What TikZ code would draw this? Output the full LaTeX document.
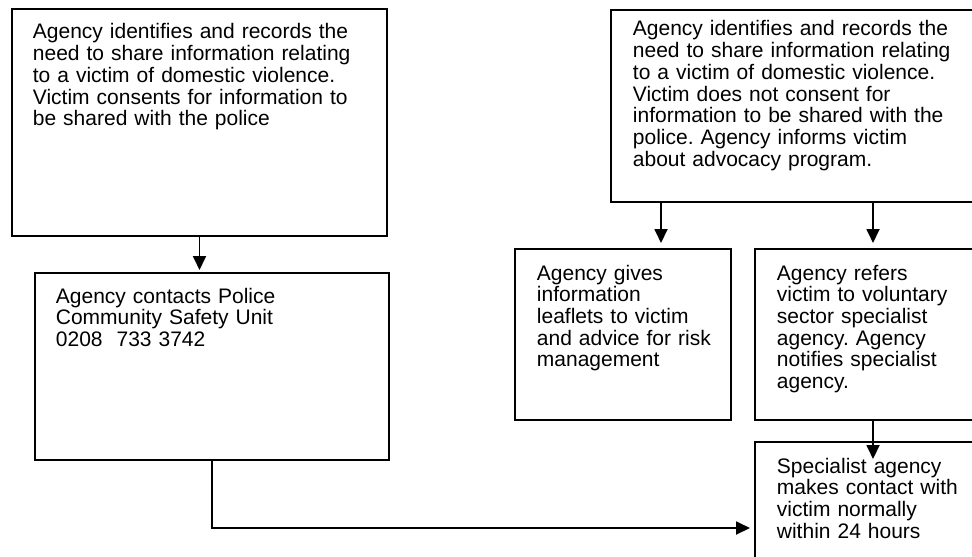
\documentclass[tikz,border=0pt]{standalone}
\usepackage{fontspec}
\setmainfont{Liberation Sans}
\usetikzlibrary{arrows.meta}
\frenchspacing
\tikzset{
  box/.style={draw,line width=0.9pt,anchor=north west,inner sep=0pt,outer sep=0pt},
  txt/.style={anchor=base west,inner sep=0pt,align=left,text width=190pt,
    font=\fontsize{10.5pt}{10.85pt}\selectfont},
}
\begin{document}
\begin{tikzpicture}[x=0.5pt,y=-0.5pt,>={Triangle[length=7pt,width=6.5pt]},line width=0.9pt]
%%
  \path[use as bounding box,clip] (0,0) rectangle (972,556);

  \node (node_0) at (12,9) [box,minimum width=187.5pt,minimum height=113.5pt] {};
  \node (node_1) at (35,273) [box,minimum width=177pt,minimum height=93.5pt] {};
  \node (node_2) at (611,10) [box,minimum width=190pt,minimum height=96pt] {};
  \node (node_3) at (515,249) [box,minimum width=108pt,minimum height=85.5pt] {};
  \node (node_4) at (755,249) [box,minimum width=118pt,minimum height=85.5pt] {};
  \node (node_5) at (755,442) [box,minimum width=118pt,minimum height=75pt] {};

  \node (text_0) at (32,39) [txt] {Agency identifies and records the\\need to share information relating\\to a victim of domestic violence.\\Victim consents for information to\\be shared with the police};
  \node (text_1) at (55,303) [txt] {Agency contacts Police\\Community Safety Unit\\0208\ \ 733 3742};
  \node (text_2) at (632,36) [txt] {Agency identifies and records the\\need to share information relating\\to a victim of domestic violence.\\Victim does not consent for\\information to be shared with the\\police. Agency informs victim\\about advocacy program.};
  \node (text_3) at (536,280) [txt] {Agency gives\\information\\leaflets to victim\\and advice for risk\\management};
  \node (text_4) at (776,280) [txt] {Agency refers\\victim to voluntary\\sector specialist\\agency. Agency\\notifies specialist\\agency.};
  \node (text_5) at (776,473) [txt] {Specialist agency\\makes contact with\\victim normally\\within 24 hours};

  \draw [->,shorten >=1.5pt] (node_0.south) -- (node_0.south |- node_1.north);
  \draw [->,shorten >=3pt] (node_2.south -| 661,0) -- (node_3.north -| 661,0);
  \draw [->,shorten >=3pt] (node_2.south -| node_4.north) -- (node_4.north);
  \draw [->,shorten >=-8.5pt] (node_4.south) -- (node_5.north);
  \draw [->,shorten >=2.5pt] (node_1.south) -- (node_1.south |- 0,528) -- (node_5.west |- 0,528);
%
\end{tikzpicture}
\end{document}
